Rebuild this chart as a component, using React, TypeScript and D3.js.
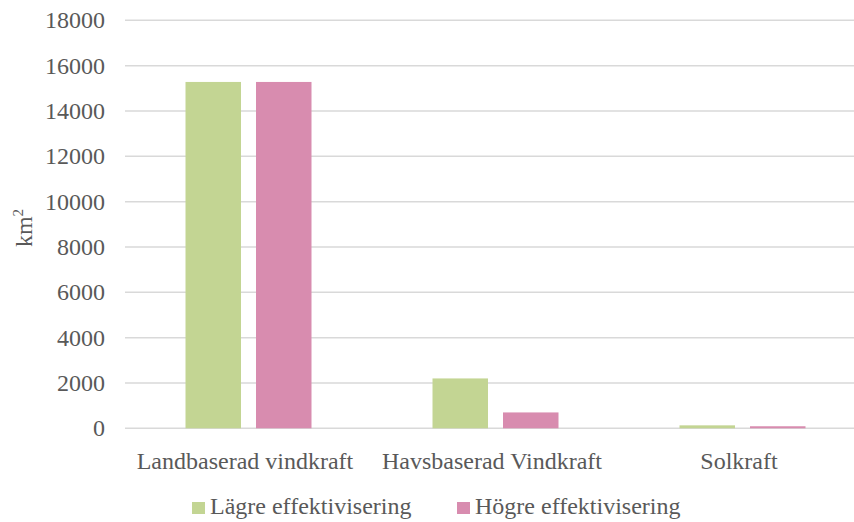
import React from "react";
import * as d3 from "d3";

const categories = ["Landbaserad vindkraft", "Havsbaserad Vindkraft", "Solkraft"];
const seriesNames = ["Lägre effektivisering", "Högre effektivisering"];
const lagre = [15280, 2200, 130];
const hogre = [15280, 700, 90];
const yTicks = [0, 2000, 4000, 6000, 8000, 10000, 12000, 14000, 16000, 18000];
const colors = ["#c3d593", "#d88caf"];

const W = 854;
const H = 522;
const FONT = "Liberation Serif, Times New Roman, serif";
const TXT: React.CSSProperties = { fontFamily: FONT, fontSize: 24 };

export default function App() {
  const x = d3.scaleBand<string>().domain(categories).range([125, 866]);
  const y = d3.scaleLinear().domain([0, 18000]).range([428.3, 20.3]);
  const barW = 55.5;
  const innerGap = 15;
  const series = [lagre, hogre];

  return (
    <svg
      width={W}
      height={H}
      style={{ position: "absolute", left: 0, top: 0, background: "#fff" }}
    >
      {yTicks.map((t) => (
        <g key={t}>
          <line x1={125} x2={W} y1={y(t)} y2={y(t)} stroke="#d9d9d9" strokeWidth={1.5} />
          <text x={105} y={y(t)} dy="0.33em" textAnchor="end" style={TXT} fill="#595959">
            {t}
          </text>
        </g>
      ))}
      {categories.map((c, i) => {
        const cx = (x(c) as number) + x.bandwidth() / 2;
        const start = cx - barW - innerGap / 2;
        return (
          <g key={c}>
            {series.map((s, j) => (
              <rect
                key={j}
                x={start + j * (barW + innerGap)}
                y={y(s[i])}
                width={barW}
                height={y(0) - y(s[i])}
                fill={colors[j]}
              />
            ))}
            <text x={cx - 3.5} y={469} textAnchor="middle" style={TXT} fill="#595959">
              {c}
            </text>
          </g>
        );
      })}
      <text
        transform={`translate(32,228) rotate(-90)`}
        textAnchor="middle"
        style={TXT}
        fill="#595959"
      >
        km<tspan dy="-9" style={{ fontFamily: FONT, fontSize: 15 }}>2</tspan>
      </text>
      {seriesNames.map((n, j) => {
        const lx = [192, 457][j];
        return (
          <g key={n}>
            <rect x={lx} y={502} width={13} height={12} fill={colors[j]} />
            <text x={lx + 18} y={514} style={TXT} fill="#595959">
              {n}
            </text>
          </g>
        );
      })}
    </svg>
  );
}
